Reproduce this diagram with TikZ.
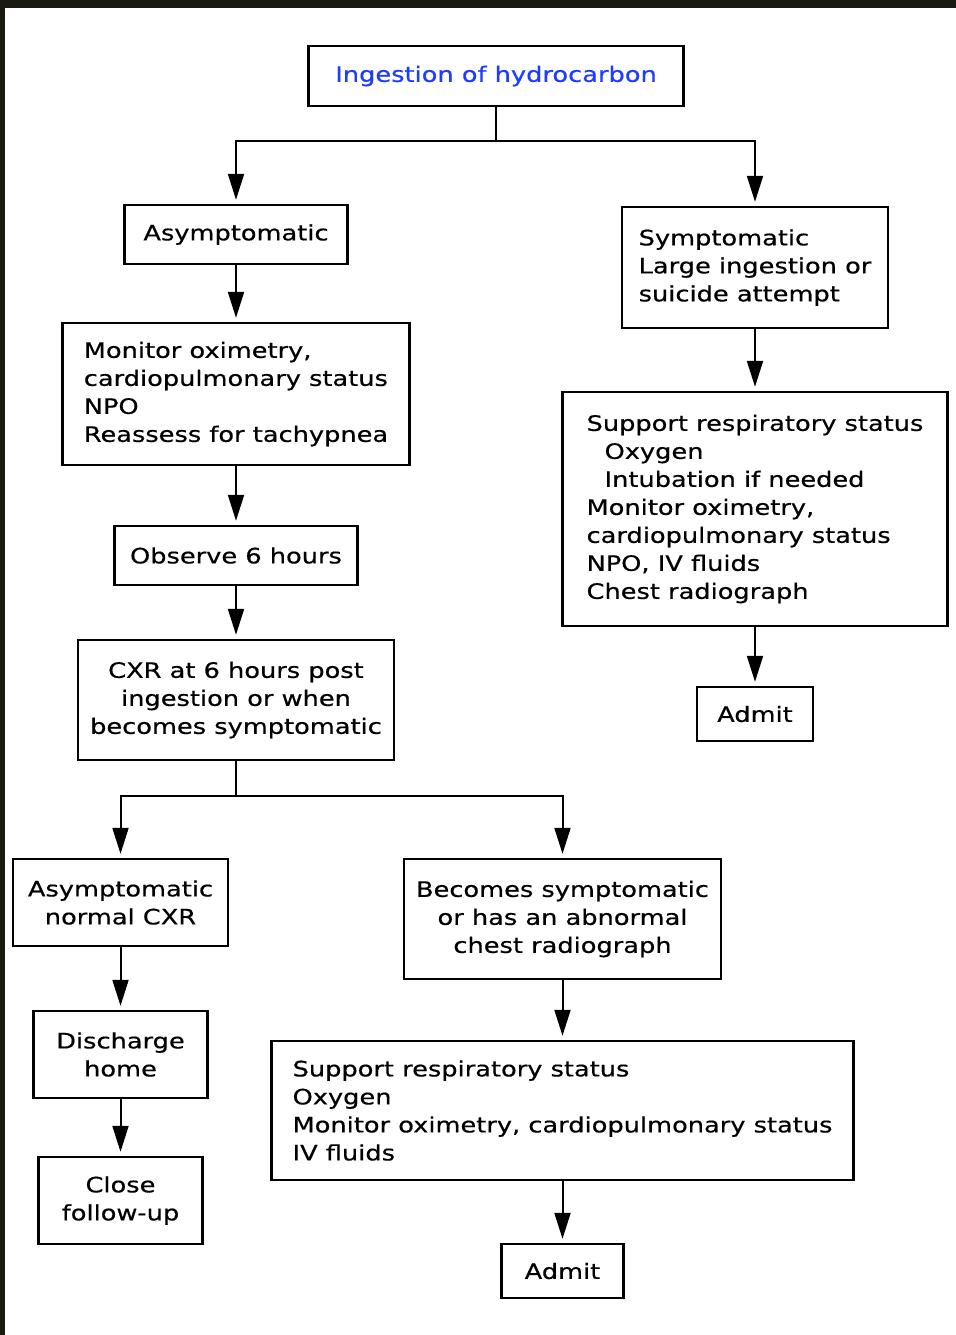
\documentclass[tikz,border=0pt]{standalone}
\usepackage{fontspec}
\setmainfont[FakeStretch=1.21, FakeBold=0.5]{DejaVu Sans}
\usetikzlibrary{arrows.meta, positioning}

\definecolor{titleblue}{RGB}{30,60,255}
\definecolor{framedark}{RGB}{27,26,16}

\begin{document}
\begin{tikzpicture}[x=0.5pt, y=-0.5pt,
    box/.style={draw, line width=1.2pt, inner sep=0pt, align=center,
        font=\fontsize{10.6}{14}\selectfont},
    lbox/.style={box, align=left},
    arr/.style={line width=1pt, -{Triangle[length=13pt, width=8pt]}, shorten >=2pt}
]
    % frame
    \fill[framedark] (0,0) rectangle (956,1335);
    \fill[white] (5,8) rectangle (956,1335);

    % top
    \node[box, text=titleblue, minimum width=187.5pt, minimum height=30pt] (ingest) at (496,76) {Ingestion of hydrocarbon};
    \coordinate (split1) at (496,141);

    % left branch
    \node[box, minimum width=111.5pt, minimum height=29.5pt] (asym) at (236,234.5) {Asymptomatic};
    \node[lbox, minimum width=173.5pt, minimum height=71pt] (monitor) at (236,394) {Monitor oximetry,\\cardiopulmonary status\\NPO\\Reassess for tachypnea};
    \node[box, minimum width=121.5pt, minimum height=29.5pt] (observe) at (236,555.5) {Observe 6 hours};
    \node[box, minimum width=158pt, minimum height=60pt] (cxr) at (236,700) {CXR at 6 hours post\\ingestion or when\\becomes symptomatic};
    \coordinate (split2) at (236,796);

    % right branch
    \node[lbox, minimum width=133pt, minimum height=60.5pt] (sympt) at (755,267.5) {Symptomatic\\Large ingestion or\\suicide attempt};
    \node[lbox, minimum width=192.5pt, minimum height=117pt] (support1) at (755,509) {Support respiratory status\\\hspace*{9pt}Oxygen\\\hspace*{9pt}Intubation if needed\\Monitor oximetry,\\cardiopulmonary status\\NPO, IV fluids\\Chest radiograph};
    \node[box, minimum width=58pt, minimum height=27pt] (admit1) at (755,714) {Admit};

    % after CXR
    \node[box, minimum width=107.5pt, minimum height=43.5pt] (normal) at (120.5,902.5) {Asymptomatic\\normal CXR};
    \node[box, minimum width=87pt, minimum height=43.5pt] (discharge) at (120.5,1054.5) {Discharge\\home};
    \node[box, minimum width=82pt, minimum height=43.5pt] (followup) at (120.5,1200.5) {Close\\follow-up};
    \node[box, minimum width=158.5pt, minimum height=60pt] (becomes) at (562.5,919) {Becomes symptomatic\\or has an abnormal\\chest radiograph};
    \node[lbox, minimum width=291pt, minimum height=69.5pt] (support2) at (562.5,1110.5) {Support respiratory status\\Oxygen\\Monitor oximetry, cardiopulmonary status\\IV fluids};
    \node[box, minimum width=61pt, minimum height=27pt] (admit2) at (562.5,1271) {Admit};

    % connectors
    \draw[line width=1pt] (ingest.south) -- (split1);
    \draw[arr] (split1) -| (asym.north);
    \draw[arr] (split1) -| (sympt.north);
    \draw[arr] (asym) -- (monitor);
    \draw[arr] (monitor) -- (observe);
    \draw[arr] (observe) -- (cxr);
    \draw[line width=1pt] (cxr.south) -- (split2);
    \draw[arr] (split2) -| (normal.north);
    \draw[arr] (split2) -| (becomes.north);
    \draw[arr] (sympt) -- (support1);
    \draw[arr] (support1) -- (admit1);
    \draw[arr] (normal) -- (discharge);
    \draw[arr] (discharge) -- (followup);
    \draw[arr] (becomes) -- (support2);
    \draw[arr] (support2) -- (admit2);
\end{tikzpicture}
\end{document}
